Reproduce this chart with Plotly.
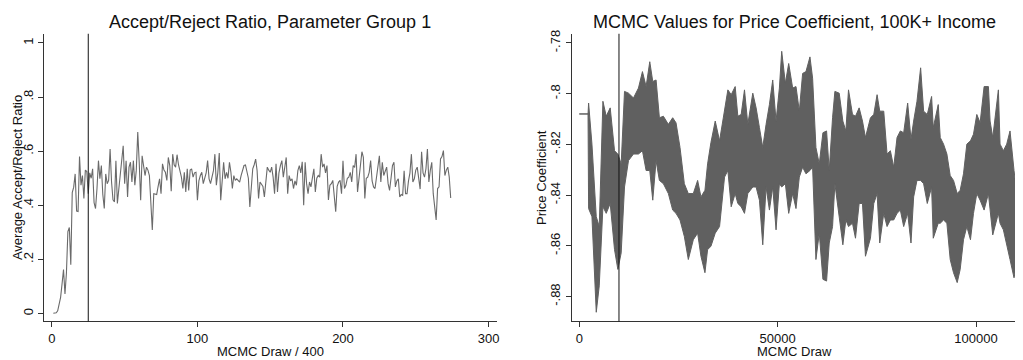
import plotly.graph_objects as go

# ---------------- data ----------------
# Left panel: average accept/reject ratio per block of 400 draws
ratio_draw = list(range(1, 275))
ratio_values = [
    0.001, 0.001, 0.003, 0.010, 0.030, 0.060, 0.110, 0.163, 0.072, 0.150,
    0.303, 0.318, 0.180, 0.447, 0.467, 0.516, 0.379, 0.377, 0.580, 0.474,
    0.510, 0.425, 0.530, 0.525, 0.443, 0.520, 0.500, 0.535, 0.410, 0.388,
    0.462, 0.565, 0.498, 0.547, 0.440, 0.388, 0.516, 0.480, 0.492, 0.608,
    0.486, 0.420, 0.413, 0.565, 0.407, 0.460, 0.535, 0.580, 0.620, 0.480,
    0.565, 0.431, 0.541, 0.559, 0.486, 0.565, 0.474, 0.530, 0.671, 0.560,
    0.419, 0.583, 0.553, 0.510, 0.541, 0.530, 0.510, 0.400, 0.309, 0.443,
    0.440, 0.440, 0.470, 0.498, 0.443, 0.553, 0.530, 0.522, 0.492, 0.577,
    0.547, 0.452, 0.589, 0.550, 0.541, 0.587, 0.550, 0.528, 0.504, 0.462,
    0.522, 0.449, 0.535, 0.455, 0.530, 0.535, 0.504, 0.520, 0.522, 0.419,
    0.490, 0.510, 0.522, 0.480, 0.504, 0.520, 0.565, 0.498, 0.480, 0.500,
    0.528, 0.589, 0.474, 0.520, 0.593, 0.419, 0.500, 0.559, 0.498, 0.522,
    0.500, 0.559, 0.522, 0.462, 0.510, 0.492, 0.498, 0.490, 0.486, 0.510,
    0.530, 0.547, 0.549, 0.528, 0.500, 0.394, 0.474, 0.535, 0.550, 0.571,
    0.528, 0.425, 0.486, 0.480, 0.470, 0.431, 0.504, 0.541, 0.530, 0.522,
    0.541, 0.504, 0.443, 0.553, 0.449, 0.520, 0.547, 0.565, 0.504, 0.540,
    0.577, 0.443, 0.510, 0.490, 0.498, 0.462, 0.490, 0.474, 0.528, 0.547,
    0.520, 0.561, 0.400, 0.559, 0.480, 0.443, 0.486, 0.468, 0.510, 0.535,
    0.449, 0.500, 0.510, 0.504, 0.589, 0.541, 0.553, 0.520, 0.547, 0.420,
    0.474, 0.480, 0.492, 0.443, 0.376, 0.470, 0.486, 0.492, 0.443, 0.565,
    0.462, 0.474, 0.500, 0.504, 0.522, 0.486, 0.547, 0.540, 0.589, 0.449,
    0.500, 0.528, 0.598, 0.577, 0.425, 0.500, 0.504, 0.522, 0.565, 0.490,
    0.468, 0.462, 0.500, 0.535, 0.583, 0.486, 0.559, 0.510, 0.530, 0.541,
    0.480, 0.455, 0.500, 0.547, 0.559, 0.468, 0.490, 0.498, 0.431, 0.440,
    0.437, 0.528, 0.443, 0.443, 0.490, 0.520, 0.589, 0.486, 0.498, 0.530,
    0.541, 0.498, 0.460, 0.598, 0.520, 0.504, 0.535, 0.608, 0.486, 0.530,
    0.559, 0.443, 0.400, 0.346, 0.462, 0.468, 0.571, 0.580, 0.602, 0.510,
    0.530, 0.541, 0.504, 0.427,
]
ratio_burnin = 25

# Right panel: MCMC trace of price coefficient (read as local max / min envelope)
coef_draw = [
    0, 2200, 2345, 3183, 4272, 5026, 5948, 6785, 7790, 8879, 9717, 10555,
    11392, 12397, 13654, 14910, 15915, 16837, 17759, 18513, 19350, 20188,
    21193, 22449, 23539, 24376, 25381, 26471, 27476, 28732, 29822, 30659,
    31664, 32333, 33172, 34260, 35350, 36606, 37444, 38281, 39286, 39957,
    40794, 41633, 42470, 43726, 44563, 45402, 46239, 47076, 47915, 48752,
    49589, 50428, 51014, 51936, 52773, 53778, 54615, 55454, 56291, 57128,
    58134, 58804, 59641, 60480, 61401, 62322, 62993, 63830, 64416, 65506,
    66427, 67181, 67851, 68856, 69610, 70532, 71369, 72123, 73380, 74217,
    75056, 75724, 76730, 77568, 78406, 79243, 80082, 80919, 81756, 82761,
    83600, 84269, 85108, 86028, 86782, 87704, 88793, 89212, 90468, 90971,
    91808, 92647, 93484, 94321, 95243, 95997, 96834, 97673, 98593, 99347,
    100186, 101023, 102028, 103116, 103536, 104206, 105629, 106049, 106886,
    107725, 108562, 109567, 110489,
]
coef_high = [
    -0.8080, -0.8080, -0.8037, -0.8199, -0.8485, -0.8524, -0.8030, -0.8089,
    -0.8056, -0.8225, -0.8238, -0.8277, -0.7991, -0.7998, -0.8017, -0.7978,
    -0.7913, -0.7972, -0.7874, -0.7952, -0.7946, -0.8095, -0.8089, -0.8121,
    -0.8095, -0.8115, -0.8212, -0.8355, -0.8394, -0.8394, -0.8342, -0.8407,
    -0.8381, -0.8277, -0.8193, -0.8108, -0.8186, -0.8069, -0.7985, -0.8004,
    -0.7972, -0.8089, -0.8082, -0.7985, -0.8121, -0.7998, -0.8056, -0.8134,
    -0.8212, -0.8121, -0.8043, -0.7946, -0.8108, -0.7978, -0.7833, -0.7959,
    -0.7881, -0.7978, -0.7972, -0.8069, -0.7920, -0.7913, -0.7855, -0.7939,
    -0.8212, -0.8277, -0.8154, -0.8147, -0.8303, -0.8095, -0.7991, -0.7998,
    -0.8108, -0.8147, -0.7985, -0.8082, -0.8089, -0.8056, -0.8108, -0.8173,
    -0.8095, -0.8082, -0.8004, -0.8069, -0.8069, -0.8238, -0.8225, -0.8290,
    -0.8173, -0.8147, -0.8154, -0.8037, -0.8180, -0.8108, -0.8030, -0.7898,
    -0.8069, -0.8082, -0.8011, -0.8134, -0.8043, -0.8173, -0.8199, -0.8238,
    -0.8323, -0.8342, -0.8394, -0.8381, -0.8316, -0.8199, -0.8186, -0.8160,
    -0.8082, -0.8115, -0.7972, -0.7972, -0.8108, -0.8173, -0.7985, -0.8199,
    -0.8225, -0.8199, -0.8147, -0.8303, -0.8420,
]
coef_low = [
    -0.8080, -0.8080, -0.8453, -0.8485, -0.8862, -0.8758, -0.8446, -0.8472,
    -0.8433, -0.8615, -0.8693, -0.8628, -0.8368, -0.8264, -0.8238, -0.8238,
    -0.8225, -0.8303, -0.8303, -0.8420, -0.8264, -0.8342, -0.8355, -0.8394,
    -0.8459, -0.8472, -0.8498, -0.8563, -0.8654, -0.8576, -0.8550, -0.8641,
    -0.8706, -0.8615, -0.8602, -0.8550, -0.8524, -0.8329, -0.8303, -0.8446,
    -0.8394, -0.8433, -0.8446, -0.8472, -0.8394, -0.8368, -0.8368, -0.8420,
    -0.8596, -0.8368, -0.8459, -0.8368, -0.8537, -0.8355, -0.8368, -0.8355,
    -0.8472, -0.8394, -0.8453, -0.8329, -0.8290, -0.8316, -0.8303, -0.8290,
    -0.8654, -0.8550, -0.8732, -0.8739, -0.8589, -0.8524, -0.8355, -0.8492,
    -0.8596, -0.8498, -0.8524, -0.8511, -0.8570, -0.8433, -0.8433, -0.8641,
    -0.8570, -0.8433, -0.8394, -0.8589, -0.8472, -0.8524, -0.8498, -0.8498,
    -0.8472, -0.8459, -0.8524, -0.8472, -0.8589, -0.8407, -0.8342, -0.8342,
    -0.8355, -0.8433, -0.8368, -0.8570, -0.8511, -0.8511, -0.8498, -0.8511,
    -0.8654, -0.8706, -0.8745, -0.8693, -0.8576, -0.8524, -0.8576, -0.8472,
    -0.8394, -0.8420, -0.8459, -0.8394, -0.8459, -0.8557, -0.8472, -0.8511,
    -0.8537, -0.8602, -0.8654, -0.8726, -0.8654,
]
coef_burnin = 10000

left_xticks = [0, 100, 200, 300]
left_yticks = [0, 0.2, 0.4, 0.6, 0.8, 1]
left_yticktext = ["0", ".2", ".4", ".6", ".8", "1"]
right_xticks = [0, 50000, 100000]
right_xticktext = ["0", "50000", "100000"]
right_yticks = [-0.88, -0.86, -0.84, -0.82, -0.80, -0.78]
right_yticktext = ["-.88", "-.86", "-.84", "-.82", "-.8", "-.78"]

# ---------------- figure ----------------
# The page body keeps its default 8px margin, so the figure is 8px smaller
# and all reference pixel positions are shifted by 8px.
OFF = 8
W, H = 1023 - OFF, 360 - OFF
FONT = "Arial, Liberation Sans, Helvetica, sans-serif"
AX = "#333333"
LINE_GRAY = "#6a6a6a"
BAND_GRAY = "#606060"

fig = go.Figure()

fig.add_trace(go.Scatter(x=ratio_draw, y=ratio_values, mode="lines",
                         line=dict(color=LINE_GRAY, width=1.1),
                         xaxis="x", yaxis="y", showlegend=False, hoverinfo="skip"))

fig.add_trace(go.Scatter(x=coef_draw, y=coef_high, mode="lines",
                         line=dict(color=BAND_GRAY, width=1),
                         xaxis="x2", yaxis="y2", showlegend=False, hoverinfo="skip"))
fig.add_trace(go.Scatter(x=coef_draw, y=coef_low, mode="lines",
                         line=dict(color=BAND_GRAY, width=1),
                         fill="tonexty", fillcolor=BAND_GRAY,
                         xaxis="x2", yaxis="y2", showlegend=False, hoverinfo="skip"))


def px_x(p):
    return (p - OFF) / W


def px_y(p):
    return 1 - (p - OFF) / H


axis_common = dict(showline=True, linecolor=AX, linewidth=1, ticks="outside",
                   ticklen=5, tickcolor=AX, tickwidth=1, showgrid=False,
                   zeroline=False, tickfont=dict(family=FONT, size=13, color="#111"),
                   mirror=False)

ydom = [px_y(321), px_y(30)]

fig.update_layout(
    width=W, height=H,
    margin=dict(l=0, r=0, t=0, b=0),
    paper_bgcolor="white", plot_bgcolor="white",
    font=dict(family=FONT, color="#111"),
    xaxis=dict(domain=[px_x(44), px_x(498)], range=[-5.48, 305.5],
               tickvals=left_xticks, anchor="y", **axis_common),
    yaxis=dict(domain=ydom, range=[-0.0292, 1.034], tickvals=left_yticks,
               ticktext=left_yticktext, tickangle=-90, anchor="x", **axis_common),
    xaxis2=dict(domain=[px_x(573.3), 1.0], range=[-1935, 111075],
                tickvals=right_xticks, ticktext=right_xticktext, anchor="y2",
                **axis_common),
    yaxis2=dict(domain=ydom, range=[-0.88982, -0.77637], tickvals=right_yticks,
                ticktext=right_yticktext, tickangle=-90, anchor="x2", **axis_common),
)

# burn-in reference lines
fig.add_shape(type="line", xref="x", yref="y domain", x0=ratio_burnin, x1=ratio_burnin,
              y0=0, y1=1, line=dict(color="#111", width=1))
fig.add_shape(type="line", xref="x2", yref="y2 domain", x0=coef_burnin, x1=coef_burnin,
              y0=0, y1=1, line=dict(color="#111", width=1))

# titles and axis titles
ann = [
    dict(text="Accept/Reject Ratio, Parameter Group 1", x=px_x(271), y=px_y(18),
         font=dict(size=18, family=FONT, color="#111")),
    dict(text="MCMC Values for Price Coefficient, 100K+ Income", x=px_x(797), y=px_y(18),
         font=dict(size=18, family=FONT, color="#111")),
    dict(text="MCMC Draw / 400", x=px_x(271), y=px_y(351),
         font=dict(size=13, family=FONT, color="#111")),
    dict(text="MCMC Draw", x=px_x(797), y=px_y(351),
         font=dict(size=13, family=FONT, color="#111")),
    dict(text="Average Accept/Reject Ratio", x=px_x(8), y=px_y(175.5), textangle=-90,
         xanchor="left", font=dict(size=13, family=FONT, color="#111")),
    dict(text="Price Coefficient", x=px_x(543), y=px_y(175.5), textangle=-90,
         font=dict(size=13, family=FONT, color="#111")),
]
for a in ann:
    a.setdefault("xanchor", "center")
    fig.add_annotation(xref="paper", yref="paper", showarrow=False,
                       yanchor="middle", **a)

fig.write_html("out.html")
